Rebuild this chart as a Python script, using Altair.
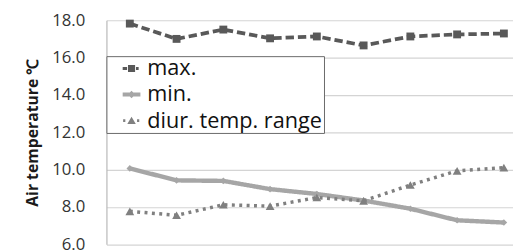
import altair as alt
import pandas as pd

# ---- data ----
positions = [1, 2, 3, 4, 5, 6, 7, 8, 9]
series_names = ["max.", "min.", "diur. temp. range"]
max_vals = [17.82, 17.0, 17.5, 17.03, 17.13, 16.65, 17.13, 17.24, 17.29]
min_vals = [10.06, 9.42, 9.39, 8.95, 8.69, 8.34, 7.9, 7.28, 7.16]
diur_vals = [7.76, 7.55, 8.11, 8.04, 8.5, 8.32, 9.17, 9.93, 10.1]
y_ticks = [6, 8, 10, 12, 14, 16, 18]

rows = []
for name, vals in zip(series_names, [max_vals, min_vals, diur_vals]):
    for p, v in zip(positions, vals):
        rows.append({"pos": p, "series": name, "value": v})
df = pd.DataFrame(rows)

# ---- styles ----
colors = ["#595959", "#a6a6a6", "#808080"]
dashes = [[8.5, 4], [1, 0], [3, 4.5]]
widths = [3.8, 4.5, 3.5]
shapes = ["square", "diamond", "triangle-up"]
sizes = [64, 45, 80]
legend_paths = [
    "M-1,-0.17H-0.5V0.17H-1Z M-0.4,-0.4H0.4V0.4H-0.4Z M0.5,-0.17H0.8V0.17H0.5Z",
    "M-1,-0.22H1V0.22H-1Z M0,-0.42L0.42,0L0,0.42L-0.42,0Z",
    "M-0.95,-0.15H-0.7V0.15H-0.95Z M0,-0.45L0.48,0.38L-0.48,0.38Z M0.62,-0.15H0.87V0.15H0.62Z",
]

x_enc = alt.X("pos:Q", scale=alt.Scale(domain=[0.5, 9.195], nice=False, zero=False), axis=None)
y_enc = alt.Y(
    "value:Q",
    scale=alt.Scale(domain=[6, 18], nice=False, zero=False),
    axis=alt.Axis(
        values=y_ticks,
        format=".1f",
        title="Air temperature ℃",
        titleFont="Open Sans",
        titleFontSize=16,
        titleFontWeight="bold",
        titleColor="#1a1a1a",
        titlePadding=11,
        labelFont="Open Sans",
        labelFontSize=17,
        labelColor="#333333",
        labelPadding=22,
        ticks=False,
        grid=True,
        gridColor="#d4d4d4",
        gridWidth=1.2,
        domainColor="#b8b8b8",
        domainWidth=1.2,
    ),
)

base = alt.Chart(df)
layers = []
for name, c, d, w, s, sz in zip(series_names, colors, dashes, widths, shapes, sizes):
    sub = base.transform_filter(alt.datum.series == name)
    layers.append(
        sub.mark_line(color=c, strokeDash=d, strokeWidth=w, strokeCap="butt").encode(x=x_enc, y=y_enc)
    )
    layers.append(
        sub.mark_point(filled=True, opacity=1, color=c, shape=s, size=sz).encode(x=x_enc, y=y_enc)
    )

leg = alt.Legend(
    title=None,
    orient="none",
    legendX=0,
    legendY=36.5,
    fillColor="white",
    strokeColor="#6a6a6a",
    padding=1.5,
    symbolSize=324,
    symbolOffset=13,
    labelOffset=5,
    rowPadding=4.5,
    labelFont="Open Sans",
    labelFontSize=22,
    labelColor="#111111",
    labelLimit=400,
)
legend_layer = base.transform_filter("false").mark_point(filled=True, opacity=1).encode(
    x=x_enc,
    y=y_enc,
    color=alt.Color("series:N", scale=alt.Scale(domain=series_names, range=colors), legend=leg),
    shape=alt.Shape("series:N", scale=alt.Scale(domain=series_names, range=legend_paths), legend=leg),
)
layers.append(legend_layer)

chart = (
    alt.layer(*layers)
    .properties(
        width=413,
        height=227.5,
        autosize=alt.AutoSizeParams(type="none"),
        padding={"left": 100, "top": 10.5, "right": 0, "bottom": 5},
        background="white",
    )
    .configure_view(strokeWidth=0)
)

chart.save("out.html", embed_options={"renderer": "svg", "actions": False})
